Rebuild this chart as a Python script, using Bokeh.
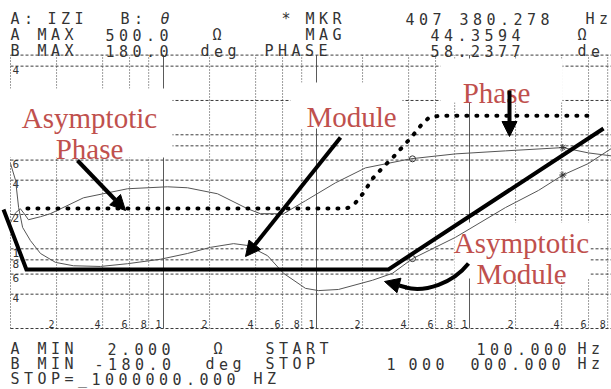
import math
from bokeh.plotting import figure
from bokeh.models import Range1d, LinearScale, Arrow, NormalHead
from bokeh.embed import file_html
from bokeh.resources import INLINE
from bokeh.core.properties import value

# ---------------- data ----------------
F_START, F_STOP = 100.0, 1_000_000.0      # Hz
Z_MIN, Z_MAX = 2.0, 500.0                 # ohm (A scale)
PH_MIN, PH_MAX = -180.0, 180.0            # deg (B scale)

mag_freq = [100, 108, 113, 120, 135, 157, 197, 258, 387, 582, 955, 1435, 2028, 2870,
            3542, 4786, 6085, 8472, 10300, 13930, 23240, 31400, 42400, 80900, 171800,
            282400, 407380, 599000, 847000]
mag_ohm = [56.0, 39.7, 23.0, 15.4, 11.8, 9.1, 7.6, 7.1, 7.0, 7.4, 8.1, 9.1, 10.3, 11.1,
           10.7, 8.7, 6.1, 4.5, 4.3, 4.4, 5.3, 6.1, 8.2, 12.6, 23.0,
           32.5, 44.36, 56.0, 75.9]

phase_freq = [100, 108, 116, 123, 131, 157, 182, 300, 582, 1062, 1435, 2254, 3542, 4305,
              6085, 8472, 13300, 20900, 41100, 80900, 171800, 407380, 599000, 847000]
phase_deg = [-40.7, -27.6, -22.3, -28.9, -36.8, -32.8, -28.9, -7.9, 4.0, 6.6, 5.3, -2.6,
             -22.3, -28.9, -28.9, -11.8, 11.8, 31.5, 43.4, 49.9, 53.9, 58.2, 51.2, 47.3]

asym_mod_freq = [90, 127, 29550, 751600]
asym_mod_ohm = [22.1, 6.6, 6.6, 113.6]

asym_ph_freq = [129, 15500, 16200, 18000, 20300, 23200, 27000, 31400, 36500, 42400,
                47800, 54000, 62700, 600000]
asym_ph_deg = [-22.0, -22.0, -21.0, -14.4, -1.3, 17.1, 31.5, 44.7, 59.1, 73.5,
               86.7, 97.2, 100.0, 100.0]

mkr_freq, mkr_mag, mkr_phase = 407380.278, 44.3594, 58.2377
mkr2_freq, mkr2_mag, mkr2_phase = 42400, 8.2, 43.4

x_grid_minor = [200, 400, 600, 800, 2000, 4000, 6000, 8000, 20000, 40000, 60000, 80000,
                200000, 400000, 600000, 800000]
x_grid_decade = [1000, 10000, 100000]
x_tick_vals = [200, 400, 600, 800, 1000, 2000, 4000, 6000, 8000, 10000, 20000, 40000,
               60000, 80000, 100000, 200000, 400000, 600000, 800000]
x_tick_text = ["2", "4", "6", "8", "1", "2", "4", "6", "8", "1", "2", "4", "6", "8", "1",
               "2", "4", "6", "8"]
y_grid = [4, 6, 8, 10, 20, 40, 60, 80, 100, 200, 400]
y_tick_text = ["4", "6", "8", "1", "2", "4", "6", "8", "1", "2", "4"]

# instrument screen text: (baseline px, [(start px, text), ...])
header_rows = [
    (18, [(10, "A:"), (47, "IZI"), (120, "B:"), (281, "*"), (305, "MKR"),
          (405, "407 380.278"), (585, "Hz")]),
    (34, [(10, "A MAX"), (105, "500.0"), (212, "Ω"), (305, "MAG"), (430, "44.3594"),
          (577, "Ω")]),
    (50, [(10, "B MAX"), (105, "180.0"), (200, "deg"), (264, "PHASE"), (430, "58.2377"),
          (577, "de")]),
]
footer_rows = [
    (348, [(10, "A MIN"), (107, "2.000"), (213, "Ω"), (265, "START"), (476, "100.000"),
           (577, "Hz")]),
    (363, [(10, "B MIN"), (94, "-180.0"), (205, "deg"), (265, "STOP"), (386, "1"),
           (408, "000"), (470, "000.000"), (577, "Hz")]),
    (378, [(10, "STOP=_1000000.000 HZ")]),
]
theta_label = (160, 18, "θ")

# ---------------- layout (pixels) ----------------
W, H, OFF = 611, 389, 0
PX_X0, PX_DEC_X = 10.0, 153.0
PX_Y0, PX_YTOP = 328.0, 54.6
DEC_Y = (PX_Y0 - PX_YTOP) / math.log10(Z_MAX / Z_MIN)
PITCH = 13.5


def fx(px):
    return 10 ** (math.log10(F_START) + (px - PX_X0) / PX_DEC_X)


def fy(py):
    return Z_MIN * 10 ** ((PX_Y0 - py) / DEC_Y)


def fph(py):
    return PH_MIN + (PX_Y0 - py) / (PX_Y0 - PX_YTOP) * (PH_MAX - PH_MIN)


p = figure(width=W, height=H, x_axis_type="log", y_axis_type="log",
           x_range=Range1d(fx(OFF), fx(OFF + W)), y_range=Range1d(fy(OFF + H), fy(OFF)),
           x_axis_location=None, y_axis_location=None,
           output_backend="svg", toolbar_location=None, min_border=0)
p.outline_line_color = None
p.grid.visible = False
p.background_fill_color = "white"
p.border_fill_color = "white"
p.extra_y_ranges = {"phase": Range1d(fph(OFF + H), fph(OFF))}
p.extra_y_scales = {"phase": LinearScale()}

GRID = "#3c3c3c"
n = len(x_grid_minor)
p.segment(x0=x_grid_minor, y0=[Z_MIN] * n, x1=x_grid_minor, y1=[Z_MAX] * n,
          line_color=GRID, line_width=1, line_dash="1 2")
n = len(x_grid_decade)
p.segment(x0=x_grid_decade, y0=[Z_MIN] * n, x1=x_grid_decade, y1=[Z_MAX] * n,
          line_color="#5a5a5a", line_width=1)
n = len(y_grid)
p.segment(x0=[F_START] * n, y0=y_grid, x1=[F_STOP] * n, y1=y_grid,
          line_color=GRID, line_width=1, line_dash="3 2")
# frame
p.segment(x0=[F_START, F_START], y0=[Z_MIN, Z_MAX], x1=[F_STOP, F_STOP], y1=[Z_MIN, Z_MAX],
          line_color=GRID, line_width=1, line_dash="3 2")
p.segment(x0=[F_START], y0=[Z_MIN], x1=[F_START], y1=[Z_MAX],
          line_color=GRID, line_width=1, line_dash="1 2")

MONO = value("DejaVu Sans Mono")
p.text(x=x_tick_vals, y=[Z_MIN] * len(x_tick_vals), text=x_tick_text, x_offset=-2, y_offset=-1,
       text_align="right", text_baseline="bottom", text_font=MONO, text_font_size="10px",
       text_color="#333333")
p.text(x=[F_START] * len(y_grid), y=y_grid, text=y_tick_text, x_offset=2, y_offset=0,
       text_align="left", text_baseline="top", text_font=MONO, text_font_size="11px",
       text_color="#333333")

# white label boxes pasted over the screen
boxes = [(8, 172, 88, 157), (290, 402, 82, 128), (440, 562, 58, 102)]
p.quad(left=[fx(b[0]) for b in boxes], right=[fx(b[1]) for b in boxes],
       top=[fy(b[2]) for b in boxes], bottom=[fy(b[3]) for b in boxes],
       fill_color="white", line_color=None)
p.quad(left=[fx(454)], right=[fx(590)], top=[fy(222)], bottom=[fy(278)],
       fill_color="white", line_color=None)

# measured traces
CURVE = "#555555"
p.line(mag_freq, mag_ohm, line_color=CURVE, line_width=1)
p.line(phase_freq, phase_deg, line_color=CURVE, line_width=1, y_range_name="phase")
p.scatter([mkr_freq], [mkr_mag], marker="asterisk", size=7, line_color="#333333")
p.scatter([mkr_freq], [mkr_phase], marker="asterisk", size=7, line_color="#333333",
          y_range_name="phase")
p.scatter([mkr2_freq], [mkr2_mag], marker="circle", size=6, fill_color=None,
          line_color="#333333")
p.scatter([mkr2_freq], [mkr2_phase], marker="circle", size=6, fill_color=None,
          line_color="#333333", y_range_name="phase")

# asymptotes
p.line(asym_mod_freq, asym_mod_ohm, line_color="black", line_width=4, line_join="miter")
p.line(asym_ph_freq, asym_ph_deg, line_color="black", line_width=4, line_dash="1 9",
       line_cap="round", y_range_name="phase")


def arrow(x0, y0, x1, y1):
    p.add_layout(Arrow(end=NormalHead(size=15, fill_color="black", line_color="black"),
                       x_start=fx(x0), y_start=fy(y0), x_end=fx(x1), y_end=fy(y1),
                       line_width=4, line_color="black"))


arrow(77, 160, 125, 210)
arrow(340, 137, 245, 256)
arrow(509, 90, 509, 136)
p.bezier(x0=[fx(468)], y0=[fy(263)], x1=[fx(405)], y1=[fy(287)],
         cx0=[fx(452)], cy0=[fy(283)], cx1=[fx(425)], cy1=[fy(292)],
         line_width=4, line_color="black")
arrow(406, 287, 384, 281)

# red annotations
RED = "#C0504D"
SERIF = value("Liberation Serif")
lab = [(89, 117, "Asymptotic"), (89, 148, "Phase"), (351, 116, "Module"),
       (496, 92, "Phase"), (521, 242, "Asymptotic"), (521, 273, "Module")]
p.text(x=[fx(a[0]) for a in lab], y=[fy(a[1]) for a in lab], text=[a[2] for a in lab],
       text_align="center", text_baseline="alphabetic", text_font=SERIF,
       text_font_size="29px", text_color=RED)

# instrument text, one character per screen cell
xs, ys, ts = [], [], []
for base, segs in header_rows + footer_rows:
    for start, s in segs:
        for i, ch in enumerate(s):
            if ch != " ":
                xs.append(fx(start + i * PITCH))
                ys.append(fy(base))
                ts.append(ch)
p.text(x=xs, y=ys, text=ts, text_align="left", text_baseline="alphabetic",
       text_font=MONO, text_font_size="15px", text_color="#333333")
p.text(x=[fx(theta_label[0])], y=[fy(theta_label[1])], text=[theta_label[2]],
       text_align="left", text_baseline="alphabetic", text_font=MONO,
       text_font_size="15px", text_font_style="italic", text_color="#333333")

open("out.html", "w").write(file_html(p, INLINE))
